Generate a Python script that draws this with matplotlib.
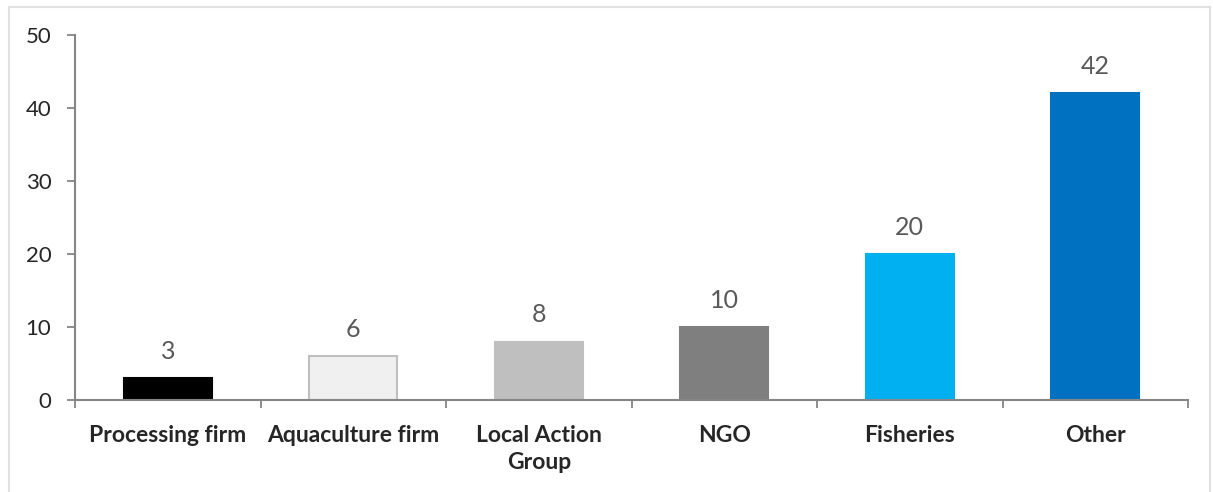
import numpy as np
import matplotlib.pyplot as plt
from matplotlib.patches import Rectangle

# Categorias e valores
categorias = ['Processing firm', 'Aquaculture firm', 'Local Action\nGroup', 'NGO', 'Fisheries', 'Other']
valores = [3, 6, 8, 10, 20, 42]
cores = ['#000000', '#f0f0f0', '#bfbfbf', '#7f7f7f', '#00b0f0', '#0070c0']
bordas = ['#000000', '#bfbfbf', '#bfbfbf', '#7f7f7f', '#00b0f0', '#0070c0']

plt.rcParams['font.family'] = ['Lato', 'DejaVu Sans']

fig = plt.figure(figsize=(12.13, 4.92), dpi=100)
ax = fig.add_axes([75 / 1213, 1 - 400 / 492, 1113 / 1213, 365 / 492])

# Moldura cinza clara em volta do grafico
fig.patches.append(Rectangle((9 / 1213, -0.1), 1201 / 1213, 1.1 - 7 / 492,
                             transform=fig.transFigure, fill=False,
                             edgecolor='#e0e0e0', linewidth=1.5))

x = np.arange(len(categorias))
barras = ax.bar(x, valores, width=0.475, color=cores, edgecolor=bordas, linewidth=1.5)
ax.bar_label(barras, labels=[str(v) for v in valores], padding=11,
             fontsize=18, color='#595959')

ax.set_xlim(-0.5, len(categorias) - 0.5)
ax.set_ylim(0, 50)
ax.set_yticks(range(0, 51, 10))
ax.set_xticks(x)
ax.set_xticklabels(categorias, fontsize=16.5, fontweight='bold', color='#262626',
                   linespacing=1.35)
ax.set_xticks(np.arange(-0.5, len(categorias)), minor=True)

ax.tick_params(axis='x', which='major', length=0, pad=18)
ax.tick_params(axis='x', which='minor', length=6, width=1.3, color='#868686', direction='out')
ax.tick_params(axis='y', length=6, width=1.3, color='#868686', labelsize=16,
               labelcolor='#262626', pad=11)

for lado in ['top', 'right']:
    ax.spines[lado].set_visible(False)
for lado in ['left', 'bottom']:
    ax.spines[lado].set_color('#868686')
    ax.spines[lado].set_linewidth(1.5)

plt.savefig('out.png', dpi=100)
